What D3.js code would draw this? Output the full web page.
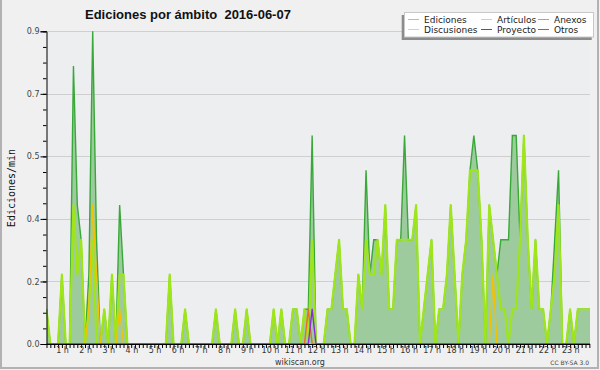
<!DOCTYPE html>
<html>
<head>
<meta charset="utf-8">
<script src="https://cdn.jsdelivr.net/npm/d3@7"></script>
<style>
  body { margin: 0; background: #f0f0f0; }
  svg { display: block; }
</style>
</head>
<body>
<svg id="chart" width="600" height="370"></svg>
<script>
// Edits per minute, one value per 10 minute bucket (144 buckets = 24 h)
const ediciones = [
  0.1,0,0,0,0.2,0,0,0.8,0.4,0.3,0,0.2,
  0.9,0.3,0,0.1,0,0.2,0,0.4,0.2,0,0,0,
  0,0,0,0,0,0,0,0,0.2,0,0,0,
  0.1,0,0,0,0,0,0,0,0.1,0,0,0,
  0,0.1,0,0,0.1,0,0,0,0,0,0,0.1,
  0,0.1,0,0,0.1,0.1,0,0.1,0.1,0.6,0,0,
  0,0.1,0.1,0.2,0.3,0.1,0.1,0,0,0.2,0.1,0.5,
  0.2,0.3,0.3,0.2,0.4,0.1,0.1,0.3,0.3,0.6,0.3,0.3,
  0.4,0,0.1,0.2,0.3,0,0.1,0.1,0.2,0.4,0.2,0,
  0.2,0.3,0.5,0.6,0.5,0.3,0,0.4,0.3,0.2,0.3,0.3,
  0.3,0.6,0.6,0.3,0.6,0.3,0.1,0.3,0.1,0.1,0,0.1,
  0.3,0.5,0,0,0.1,0,0.1,0.1,0.1,0.1,0.1,0.1
];
const articulos = [
  0.1,0,0,0,0.2,0,0,0.4,0.2,0.3,0,0.1,
  0.3,0,0,0.1,0,0.2,0,0.2,0.2,0,0,0,
  0,0,0,0,0,0,0,0,0.2,0,0,0,
  0.1,0,0,0,0,0,0,0,0.1,0,0,0,
  0,0.1,0,0,0.1,0,0,0,0,0,0,0.1,
  0,0.1,0,0,0.1,0.1,0,0.1,0,0.3,0,0,
  0,0.1,0.1,0.2,0.3,0.1,0.1,0,0,0.2,0.1,0.3,
  0.2,0.2,0.3,0.2,0.4,0.1,0.1,0.3,0.3,0.3,0.3,0.3,
  0.4,0,0.1,0.2,0.3,0,0.1,0.1,0.2,0.4,0.2,0,
  0.2,0.3,0.5,0.5,0.5,0.3,0,0.4,0.3,0.2,0.1,0.1,
  0,0.1,0.1,0.3,0.6,0.3,0.1,0.3,0.1,0.1,0,0.1,
  0.2,0.4,0,0,0.1,0,0.1,0.1,0.1,0.1,0.1,0.1
];
const discusiones = [
  0,0,0,0,0,0,0,0,0,0,0,0.1,
  0.4,0.2,0,0,0,0,0,0.1,0,0,0,0,
  0,0,0,0,0,0,0,0,0,0,0,0,
  0,0,0,0,0,0,0,0,0,0,0,0,
  0,0,0,0,0,0,0,0,0,0,0,0,
  0,0,0,0,0,0,0,0,0,0,0,0,
  0,0,0,0,0,0,0,0,0,0,0,0,
  0,0,0,0,0,0,0,0,0,0,0,0,
  0,0,0,0,0,0,0,0,0,0,0,0,
  0,0,0,0,0,0,0,0,0.2,0,0,0,
  0,0,0,0,0,0,0,0,0,0,0,0,
  0,0,0,0,0,0,0,0,0,0,0,0
];
const anexos = [
  0,0,0,0,0,0,0,0,0,0,0,0,
  0,0,0,0,0,0,0,0,0,0,0,0,
  0,0,0,0,0,0,0,0,0,0,0,0,
  0,0,0,0,0,0,0,0,0,0,0,0,
  0,0,0,0,0,0,0,0,0,0,0,0,
  0,0,0,0,0,0,0,0,0.1,0,0,0,
  0,0,0,0,0,0,0,0,0,0,0,0,
  0,0,0,0,0,0,0,0,0,0,0,0,
  0,0,0,0,0,0,0,0,0,0,0,0,
  0,0,0,0,0,0,0,0,0,0,0,0,
  0,0,0,0,0,0,0,0,0,0,0,0,
  0,0,0,0,0,0,0,0,0,0,0,0
];
const otros = [
  0,0,0,0,0,0,0,0,0,0,0,0,
  0,0,0,0,0,0,0,0,0,0,0,0,
  0,0,0,0,0,0,0,0,0,0,0,0,
  0,0,0,0,0,0,0,0,0,0,0,0,
  0,0,0,0,0,0,0,0,0,0,0,0,
  0,0,0,0,0,0,0,0,0,0.1,0,0,
  0,0,0,0,0,0,0,0,0,0,0,0,
  0,0,0,0,0,0,0,0,0,0,0,0,
  0,0,0,0,0,0,0,0,0,0,0,0,
  0,0,0,0,0,0,0,0,0,0,0,0,
  0,0,0,0,0,0,0,0,0,0,0,0,
  0,0,0,0,0,0,0,0,0,0,0,0
];

const hourLabels = ["1 h","2 h","3 h","4 h","5 h","6 h","7 h","8 h","9 h","10 h","11 h","12 h",
                    "13 h","14 h","15 h","16 h","17 h","18 h","19 h","20 h","21 h","22 h","23 h"];
const yTicks = [0, 0.18, 0.36, 0.54, 0.72, 0.9];
const legendNames = ["Ediciones", "Artículos", "Anexos", "Discusiones", "Proyecto", "Otros"];
const legendColors = ["#8fd68f", "#c4ee40", "#f88a5a", "#ffd24a", "#5a5a5a", "#8a4fe6"];

const svg = d3.select("#chart");

// plot box
const plotLeft = 46.5, plotRight = 590, plotTop = 31.3, plotBottom = 344;

// 10 minute buckets, 3.85 px apart, the last ones run past the right edge and get clipped
const x = d3.scaleLinear().domain([0, 144]).range([plotLeft, plotLeft + 144 * 3.85]);
const y = d3.scaleLinear().domain([0, 0.9]).range([plotBottom, plotTop]);

// frame (left, right, bottom edges only)
svg.append("path")
    .attr("d", "M1,0 V368 H598 V0")
    .attr("fill", "none")
    .attr("stroke", "#b2b2b2")
    .attr("stroke-width", 2);

svg.append("rect")
    .attr("x", plotLeft).attr("y", plotTop)
    .attr("width", plotRight - plotLeft).attr("height", plotBottom - plotTop)
    .attr("fill", "#eceef0");

svg.append("clipPath").attr("id", "plotClip")
  .append("rect")
    .attr("x", plotLeft).attr("y", plotTop - 2)
    .attr("width", plotRight - plotLeft).attr("height", plotBottom - plotTop + 2);

// horizontal grid
svg.append("g")
  .selectAll("line")
  .data(yTicks.slice(1))
  .join("line")
    .attr("x1", plotLeft).attr("x2", plotRight)
    .attr("y1", d => Math.round(y(d)) + 0.5)
    .attr("y2", d => Math.round(y(d)) + 0.5)
    .attr("stroke", "#cfcfcf");

// series
const plot = svg.append("g").attr("clip-path", "url(#plotClip)");

const area = d3.area()
    .x((d, i) => x(i))
    .y0(plotBottom)
    .y1(d => y(d));
const line = d3.line()
    .x((d, i) => x(i))
    .y(d => y(d));

plot.append("path")
    .datum(ediciones)
    .attr("fill", "#9ecb9e")
    .attr("d", area);
plot.append("path")
    .datum(ediciones)
    .attr("fill", "none")
    .attr("stroke", "#38a838")
    .attr("stroke-width", 1.4)
    .attr("d", line);

const lineSeries = [
    { data: articulos, color: "#9ee51a", width: 2.2 },
    { data: discusiones, color: "#f2c200", width: 1.4 },
    { data: anexos, color: "#f06a20", width: 1.4 },
    { data: otros, color: "#8a2be2", width: 1.4 }
];
lineSeries.forEach(s => {
    plot.append("path")
        .datum(s.data)
        .attr("fill", "none")
        .attr("stroke", s.color)
        .attr("stroke-width", s.width)
        .attr("stroke-linejoin", "round")
        .attr("d", line);
});

// y axis
const yAxis = d3.axisLeft(y)
    .tickValues(yTicks)
    .tickSize(6)
    .tickPadding(1)
    .tickFormat(d3.format(".1f"));
const yMinor = d3.axisLeft(y)
    .tickValues(d3.range(0, 0.9001, 0.045))
    .tickSize(3.5)
    .tickFormat("");

svg.append("g").attr("transform", `translate(${plotLeft},0)`).call(yMinor)
    .call(g => g.select(".domain").remove());
svg.append("g").attr("transform", `translate(${plotLeft},0)`).call(yAxis)
    .call(g => g.select(".domain").attr("stroke", "#000"))
    .call(g => g.selectAll("text")
        .attr("fill", "#444")
        .style("font", "8px 'DejaVu Sans'"));

// x axis: 10 minute ticks
const xAxis = d3.axisBottom(x)
    .tickValues(d3.range(0, 142))
    .tickSize(4)
    .tickFormat("");
svg.append("g").attr("transform", `translate(0,${plotBottom})`).call(xAxis)
    .call(g => g.select(".domain").remove());
svg.append("line")
    .attr("x1", plotLeft).attr("x2", plotRight)
    .attr("y1", plotBottom + 0.5).attr("y2", plotBottom + 0.5)
    .attr("stroke", "#000");

svg.append("g")
  .selectAll("text")
  .data(hourLabels)
  .join("text")
    .attr("x", (d, i) => x((i + 1) * 6) - 7)
    .attr("y", 353)
    .attr("text-anchor", "middle")
    .attr("fill", "#333")
    .style("font", "8px 'DejaVu Sans'")
    .text(d => d);

// titles
svg.append("text")
    .attr("x", 85).attr("y", 18.5)
    .style("font", "bold 13px 'Liberation Sans'")
    .style("white-space", "pre")
    .attr("fill", "#111")
    .text("Ediciones por ámbito  2016-06-07");

svg.append("text")
    .attr("transform", "translate(15,188) rotate(-90)")
    .attr("text-anchor", "middle")
    .style("font", "10px 'DejaVu Sans Mono'")
    .attr("fill", "#111")
    .text("Ediciones/min");

svg.append("text")
    .attr("x", 300).attr("y", 365)
    .attr("text-anchor", "middle")
    .style("font", "8px 'DejaVu Sans'")
    .attr("fill", "#333")
    .text("wikiscan.org");

svg.append("text")
    .attr("x", 589).attr("y", 365)
    .attr("text-anchor", "end")
    .style("font", "6px 'DejaVu Sans'")
    .attr("fill", "#444")
    .text("CC BY-SA 3.0");

// legend
const legend = svg.append("g");
legend.append("rect")
    .attr("x", 401.7).attr("y", 15)
    .attr("width", 190).attr("height", 25)
    .attr("fill", "#8c8c8c");
legend.append("rect")
    .attr("x", 404.5).attr("y", 12.5)
    .attr("width", 189).attr("height", 24.5)
    .attr("fill", "#fff")
    .attr("stroke", "#c8c8c8");

const colX = [408, 481, 538];
const rowY = [19.5, 29.5];
legendNames.forEach((name, i) => {
    const cx = colX[i % 3], cy = rowY[Math.floor(i / 3)];
    legend.append("line")
        .attr("x1", cx).attr("x2", cx + 11)
        .attr("y1", cy).attr("y2", cy)
        .attr("stroke", legendColors[i]);
    legend.append("text")
        .attr("x", cx + 16).attr("y", cy + 3)
        .style("font", "9px 'DejaVu Sans'")
        .attr("fill", "#222")
        .text(name);
});
</script>
</body>
</html>
